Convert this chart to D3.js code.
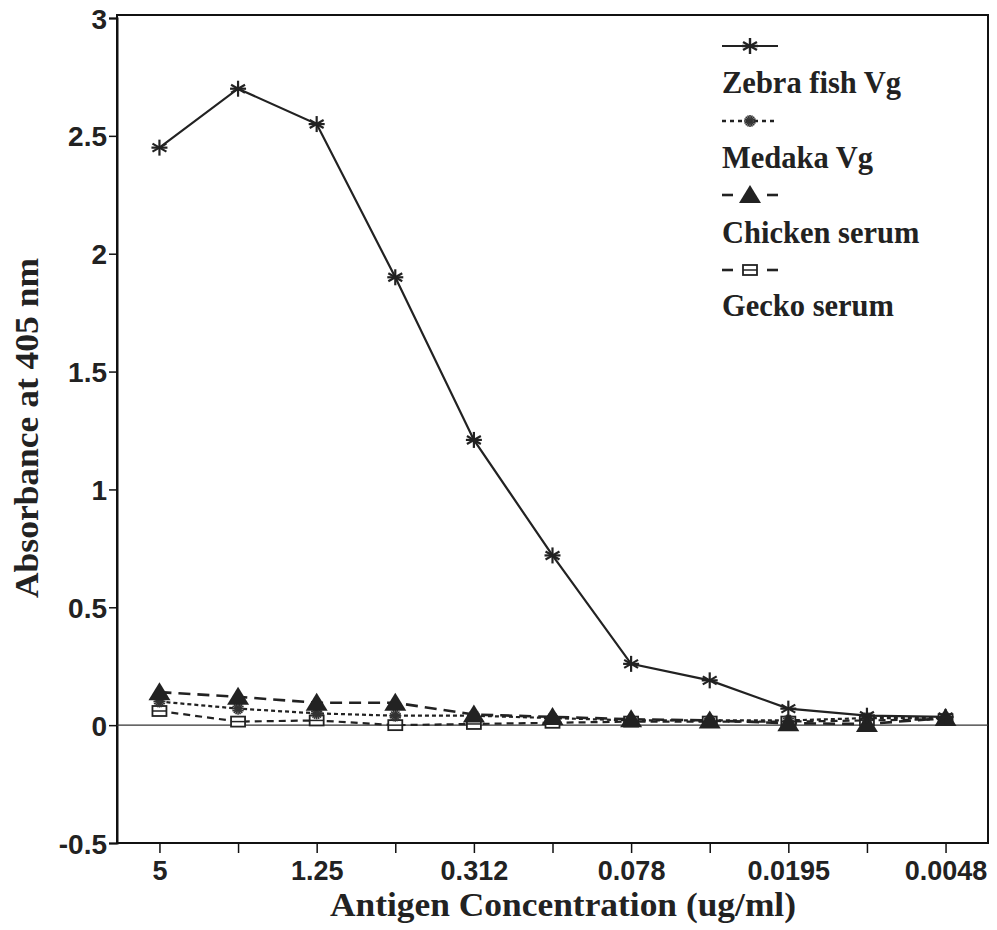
<!DOCTYPE html>
<html>
<head>
<meta charset="utf-8">
<script src="https://cdn.jsdelivr.net/npm/d3@7"></script>
<style>
  html, body { margin: 0; padding: 0; background: #fff; }
  svg { display: block; }
</style>
</head>
<body>
<svg id="chart" width="997" height="930"></svg>
<script>
// Antigen dilution series (ug/ml), two-fold steps
const concentrations = ["5", "2.5", "1.25", "0.625", "0.312", "0.156", "0.078", "0.039", "0.0195", "0.0098", "0.0048"];
const labelledTicks = ["5", "1.25", "0.312", "0.078", "0.0195", "0.0048"];
const yTicks = [-0.5, 0, 0.5, 1, 1.5, 2, 2.5, 3];

// Absorbance at 405 nm for each antigen
const zebrafishVg = [2.45, 2.70, 2.55, 1.90, 1.21, 0.72, 0.26, 0.19, 0.07, 0.04, 0.035];
const medakaVg    = [0.10, 0.07, 0.05, 0.04, 0.04, 0.03, 0.02, 0.02, 0.02, 0.03, 0.03];
const chickenSerum = [0.14, 0.12, 0.095, 0.095, 0.045, 0.035, 0.025, 0.02, 0.008, 0.005, 0.03];
const geckoSerum  = [0.06, 0.015, 0.02, 0.0, 0.005, 0.01, 0.015, 0.015, 0.015, 0.02, 0.025];

const seriesNames = ["Zebra fish Vg", "Medaka Vg", "Chicken serum", "Gecko serum"];

const svg = d3.select("#chart");
const plotLeft = 117, plotRight = 988, plotTop = 18, plotBottom = 843;

const x = d3.scalePoint().domain(concentrations).range([plotLeft, plotRight]).padding(0.54);
const y = d3.scaleLinear().domain([-0.5, 3]).range([plotBottom, plotTop]);

const sans = "'Liberation Sans', Arial, Helvetica, sans-serif";
const serif = "'Liberation Serif', 'Times New Roman', serif";

// frame
svg.append("rect")
  .attr("x", plotLeft).attr("y", plotTop - 3)
  .attr("width", plotRight - plotLeft).attr("height", plotBottom - plotTop + 3)
  .attr("fill", "none").attr("stroke", "#111").attr("stroke-width", 2);

// y axis
const yAxis = svg.append("g")
  .attr("transform", `translate(${plotLeft},0)`)
  .call(d3.axisLeft(y).tickValues(yTicks).tickSize(8).tickPadding(2)
    .tickFormat(d => String(d)));
yAxis.select(".domain").attr("stroke", "#111").attr("stroke-width", 2);
yAxis.selectAll(".tick line").attr("stroke", "#111").attr("stroke-width", 1.5);
yAxis.selectAll("text")
  .attr("font-family", sans).attr("font-weight", "bold").attr("font-size", 28)
  .attr("fill", "#222").attr("dy", "0.36em");

// x axis
const xAxis = svg.append("g")
  .attr("transform", `translate(0,${plotBottom})`)
  .call(d3.axisBottom(x).tickSize(10).tickPadding(8)
    .tickFormat(d => labelledTicks.includes(d) ? d : ""));
xAxis.select(".domain").remove();
xAxis.selectAll(".tick line").attr("stroke", "#111").attr("stroke-width", 1.5);
xAxis.selectAll("text")
  .attr("font-family", sans).attr("font-weight", "bold").attr("font-size", 27)
  .attr("fill", "#222");

// zero reference line
svg.append("line")
  .attr("x1", plotLeft).attr("x2", plotRight)
  .attr("y1", y(0)).attr("y2", y(0))
  .attr("stroke", "#333").attr("stroke-width", 1.2);

// axis titles
svg.append("text")
  .attr("x", 563).attr("y", 916)
  .attr("text-anchor", "middle")
  .attr("font-family", serif).attr("font-weight", "bold").attr("font-size", 33)
  .attr("textLength", 466).attr("lengthAdjust", "spacingAndGlyphs")
  .attr("fill", "#222")
  .text("Antigen Concentration (ug/ml)");

svg.append("text")
  .attr("transform", "translate(38,428) rotate(-90)")
  .attr("text-anchor", "middle")
  .attr("font-family", serif).attr("font-weight", "bold").attr("font-size", 33)
  .attr("textLength", 340).attr("lengthAdjust", "spacingAndGlyphs")
  .attr("fill", "#222")
  .text("Absorbance at 405 nm");

// marker painters
function asterisk(g, cx, cy, r, w) {
  const arms = [[0, r], [r * 0.87, r * 0.5], [r * 0.87, -r * 0.5], [r, 0]];
  arms.forEach(([dx, dy]) => {
    g.append("line")
      .attr("x1", cx - dx).attr("y1", cy - dy)
      .attr("x2", cx + dx).attr("y2", cy + dy)
      .attr("stroke", "#222").attr("stroke-width", w);
  });
}
function denseStar(g, cx, cy, r) {
  for (let k = 0; k < 8; k++) {
    const a = Math.PI * k / 8;
    g.append("line")
      .attr("x1", cx - r * Math.cos(a)).attr("y1", cy - r * Math.sin(a))
      .attr("x2", cx + r * Math.cos(a)).attr("y2", cy + r * Math.sin(a))
      .attr("stroke", "#333").attr("stroke-width", 1.6);
  }
}
function triangle(g, cx, cy) {
  g.append("path")
    .attr("d", `M${cx},${cy - 10} L${cx + 11},${cy + 8} L${cx - 11},${cy + 8} Z`)
    .attr("fill", "#222");
}
function box(g, cx, cy) {
  g.append("rect")
    .attr("x", cx - 7).attr("y", cy - 5).attr("width", 14).attr("height", 10)
    .attr("fill", "#fff").attr("stroke", "#222").attr("stroke-width", 1.8);
  g.append("line")
    .attr("x1", cx - 7).attr("x2", cx + 7).attr("y1", cy).attr("y2", cy)
    .attr("stroke", "#222").attr("stroke-width", 1.5);
}

const series = [
  { name: seriesNames[3], values: geckoSerum, dash: "7,5", width: 2.2, marker: box },
  { name: seriesNames[1], values: medakaVg, dash: "4,3", width: 2.2, marker: (g, cx, cy) => denseStar(g, cx, cy, 6) },
  { name: seriesNames[2], values: chickenSerum, dash: "12,7", width: 2.6, marker: triangle },
  { name: seriesNames[0], values: zebrafishVg, dash: null, width: 2.2, marker: (g, cx, cy) => asterisk(g, cx, cy, 8, 2.2) }
];

const line = d3.line().x((d, i) => x(concentrations[i])).y(d => y(d));

const plot = svg.append("g");
series.forEach(s => {
  plot.append("path")
    .datum(s.values)
    .attr("d", line)
    .attr("fill", "none")
    .attr("stroke", "#222")
    .attr("stroke-width", s.width)
    .attr("stroke-dasharray", s.dash);
});
series.forEach(s => {
  const g = plot.append("g");
  s.values.forEach((v, i) => s.marker(g, x(concentrations[i]), y(v)));
});

// legend
const legend = svg.append("g");
const lx0 = 722, lx1 = 778, lmid = 750;
const legendRows = [
  { name: seriesNames[0], ty: 93 },
  { name: seriesNames[1], ty: 168 },
  { name: seriesNames[2], ty: 243 },
  { name: seriesNames[3], ty: 316 }
];

// Zebra fish Vg: solid line with asterisk
legend.append("line").attr("x1", lx0).attr("x2", lx1).attr("y1", 46).attr("y2", 46)
  .attr("stroke", "#222").attr("stroke-width", 2.2);
asterisk(legend, lmid, 46, 8, 2.4);

// Medaka Vg: short dashes with dense star
legend.append("line").attr("x1", lx0).attr("x2", lx1).attr("y1", 121).attr("y2", 121)
  .attr("stroke", "#222").attr("stroke-width", 2.4).attr("stroke-dasharray", "4,4");
denseStar(legend, lmid, 121, 6);

// Chicken serum and Gecko serum: short segment each side of the marker
[195, 270].forEach(sy => {
  legend.append("line").attr("x1", lx0).attr("x2", lx0 + 11).attr("y1", sy).attr("y2", sy)
    .attr("stroke", "#222").attr("stroke-width", 2.6);
  legend.append("line").attr("x1", lx1 - 11).attr("x2", lx1).attr("y1", sy).attr("y2", sy)
    .attr("stroke", "#222").attr("stroke-width", 2.6);
});
triangle(legend, lmid, 195);
box(legend, lmid, 270);

legendRows.forEach(r => {
  legend.append("text")
    .attr("x", lx0).attr("y", r.ty)
    .attr("font-family", serif).attr("font-weight", "bold").attr("font-size", 30.5)
    .attr("fill", "#222")
    .text(r.name);
});
</script>
</body>
</html>
